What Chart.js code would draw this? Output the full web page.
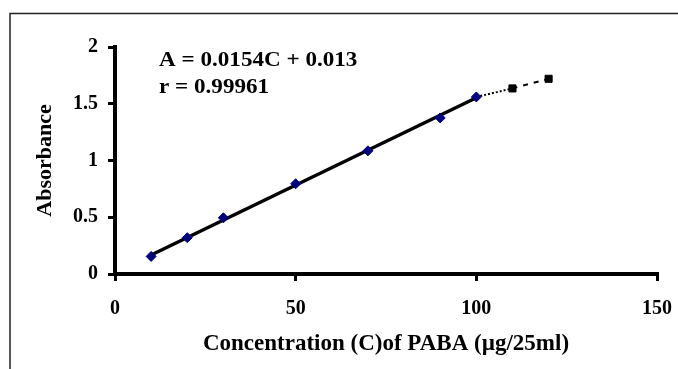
<!DOCTYPE html>
<html>
<head>
<meta charset="utf-8">
<script src="https://cdn.jsdelivr.net/npm/chart.js@4.4.1/dist/chart.umd.min.js"></script>
<style>
html,body{margin:0;padding:0;background:#fff;}
#wrap{position:relative;width:678px;height:369px;}
canvas{position:absolute;left:0;top:0;}
</style>
</head>
<body>
<div id="wrap"><canvas id="c" width="678" height="369"></canvas></div>
<script>
// Data
const concentrations = [10, 20, 30, 50, 70, 90, 100];
const absorbances   = [0.155, 0.32, 0.495, 0.795, 1.085, 1.375, 1.56];
const extraConc = [110, 120];
const extraAbs  = [1.635, 1.72];
const slope = 0.0154;
const intercept = 0.013;
const equationText = 'A = 0.0154C + 0.013';
const rText = 'r = 0.99961';
const xTicks = [0, 50, 100, 150];
const yTicks = [0, 0.5, 1, 1.5, 2];
const yTickLabels = ['0', '0.5', '1', '1.5', '2'];
const xTitle = 'Concentration (C)of PABA (\u00b5g/25ml)';
const yTitle = 'Absorbance';

const pts = concentrations.map((c, i) => ({x: c, y: absorbances[i]}));
const extraPts = extraConc.map((c, i) => ({x: c, y: extraAbs[i]}));
const fitPts = [concentrations[0], concentrations[concentrations.length - 1]].map(c => ({x: c, y: slope * c + intercept}));
const dotPts = [pts[pts.length - 1], extraPts[0]];
const dashPts = [extraPts[0], extraPts[1]];

const FONT = "'Liberation Serif', 'Times New Roman', serif";

const framePlugin = {
  id: 'frame',
  beforeDraw(chart) {
    const ctx = chart.ctx;
    ctx.save();
    ctx.fillStyle = '#fff';
    ctx.fillRect(0, 0, chart.width, chart.height);
    ctx.strokeStyle = '#222';
    ctx.lineWidth = 1.5;
    ctx.beginPath();
    ctx.moveTo(678, 13.5);
    ctx.lineTo(10, 13.5);
    ctx.lineTo(10, 369);
    ctx.stroke();
    ctx.restore();
  },
  afterDraw(chart) {
    const ctx = chart.ctx;
    const xs = chart.scales.x, ys = chart.scales.y;
    ctx.save();
    ctx.fillStyle = '#000';
    ctx.font = 'bold 22px ' + FONT;
    ctx.textBaseline = 'alphabetic';
    ctx.textAlign = 'left';
    const x0 = xs.getPixelForValue(12.2);
    const stretch = 1.05;
    [[equationText, 1.83], [rText, 1.595]].forEach(([t, v]) => {
      ctx.save();
      ctx.translate(x0, ys.getPixelForValue(v));
      ctx.scale(stretch, 1);
      ctx.fillText(t, 0, 0);
      ctx.restore();
    });
    ctx.restore();
  }
};

new Chart(document.getElementById('c'), {
  type: 'scatter',
  data: {
    datasets: [
      {type: 'line', data: fitPts, borderColor: '#000', borderWidth: 3.5, pointRadius: 0, fill: false, order: 2},
      {type: 'line', data: dotPts, borderColor: '#000', borderWidth: 2, borderDash: [2, 2], pointRadius: 0, fill: false, order: 3},
      {type: 'line', data: dashPts, borderColor: '#000', borderWidth: 2, borderDash: [5, 6], pointRadius: 0, fill: false, order: 3},
      {data: pts, pointStyle: 'rectRot', pointRadius: 5, backgroundColor: '#000080', borderColor: '#000080', borderWidth: 1, order: 1},
      {data: extraPts, pointStyle: 'rect', pointRadius: 5, backgroundColor: '#000', borderColor: '#000', borderWidth: 1, order: 1}
    ]
  },
  options: {
    responsive: false,
    animation: false,
    devicePixelRatio: 1,
    layout: {padding: {left: 0, right: 21, top: 47, bottom: 0}},
    plugins: {legend: {display: false}, tooltip: {enabled: false}},
    scales: {
      x: {
        type: 'linear', min: 0, max: 150,
        afterBuildTicks: s => { s.ticks = xTicks.map(v => ({value: v})); },
        afterFit: s => { s.height = 95; s.paddingLeft = 0; s.paddingRight = 0; },
        border: {display: true, color: '#000', width: 4},
        grid: {display: true, drawOnChartArea: false, drawTicks: true, tickLength: 7, color: '#000', lineWidth: 3},
        ticks: {color: '#000', padding: 16, font: {family: FONT, size: 20, weight: 'bold'}, maxRotation: 0},
        title: {display: true, text: xTitle, color: '#000', font: {family: FONT, size: 23, weight: 'bold'}, padding: {top: 0, bottom: 11}}
      },
      y: {
        type: 'linear', min: 0, max: 2,
        afterBuildTicks: s => { s.ticks = yTicks.map(v => ({value: v})); },
        afterFit: s => { s.width = 115; s.paddingTop = 0; s.paddingBottom = 0; },
        border: {display: true, color: '#000', width: 4},
        grid: {display: true, drawOnChartArea: false, drawTicks: true, tickLength: 7, color: '#000', lineWidth: 3},
        ticks: {color: '#000', padding: 10, font: {family: FONT, size: 20, weight: 'bold'},
                callback: (v, i) => yTickLabels[yTicks.indexOf(v)] ?? String(v)},
        title: {display: true, text: yTitle, color: '#000', font: {family: FONT, size: 22, weight: 'bold'}, padding: {top: 32, bottom: 0}}
      }
    }
  },
  plugins: [framePlugin]
});
</script>
</body>
</html>
